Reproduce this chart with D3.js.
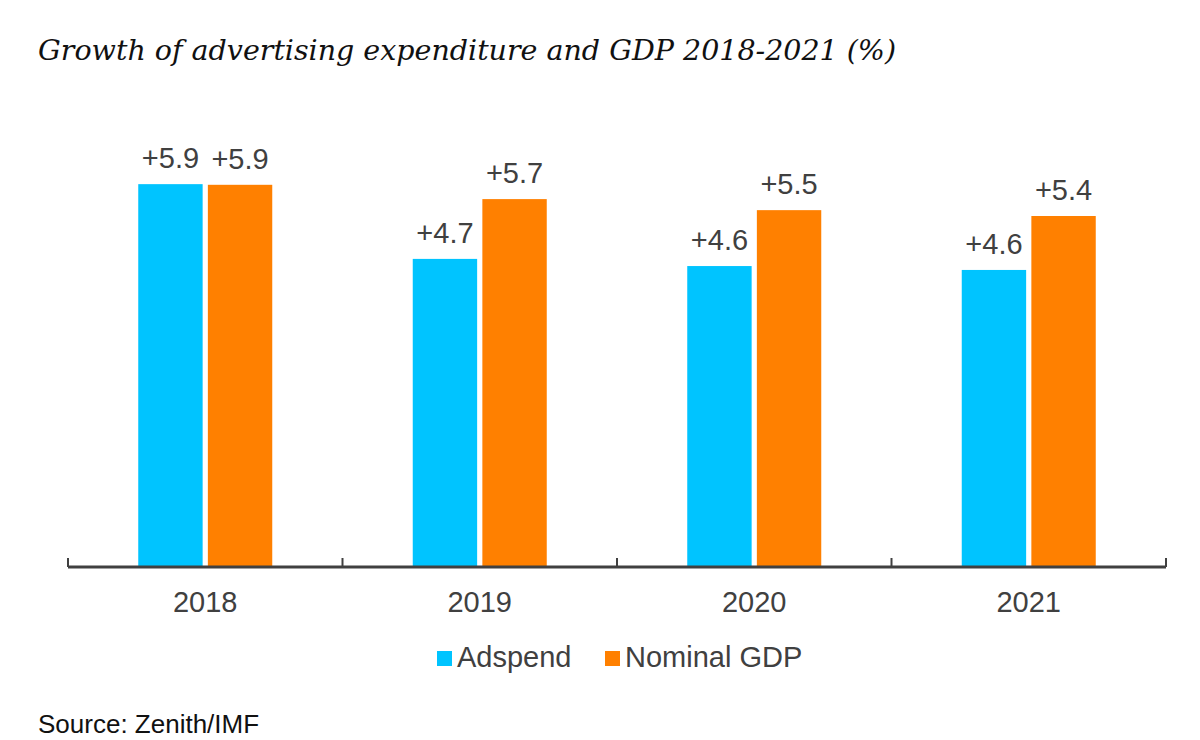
<!DOCTYPE html>
<html>
<head>
<meta charset="utf-8">
<script src="https://cdn.jsdelivr.net/npm/d3@7"></script>
<style>
  html, body { margin: 0; padding: 0; background: #fff; }
  svg { display: block; }
</style>
</head>
<body>
<svg id="chart" width="1200" height="740"></svg>
<script>
const years = ["2018", "2019", "2020", "2021"];
const seriesNames = ["Adspend", "Nominal GDP"];
const adspend = [5.89, 4.74, 4.63, 4.57];
const nominalGDP = [5.88, 5.66, 5.49, 5.40];
const seriesColors = ["#00C4FF", "#FF8000"];
const titleText = "Growth of advertising expenditure and GDP 2018-2021 (%)";
const sourceText = "Source: Zenith/IMF";

const svg = d3.select("#chart");
const W = 1200, H = 740;
const margin = { left: 68, right: 34, top: 177, bottom: 173 };
const x0 = d3.scaleBand().domain(years).range([margin.left, W - margin.right]).paddingInner(0).paddingOuter(0);
const x1 = d3.scaleBand().domain(seriesNames).range([0, 134]).paddingInner(0.075);
const y = d3.scaleLinear().domain([0, 6]).range([H - margin.bottom, margin.top]);
const baseY = y(0);

const data = years.map((yr, i) => ({ year: yr, values: [adspend[i], nominalGDP[i]] }));

// Title
svg.append("text")
  .attr("x", 38).attr("y", 60)
  .attr("font-family", "'DejaVu Serif', 'Liberation Serif', serif")
  .attr("font-style", "italic")
  .attr("font-size", 28.5)
  .attr("fill", "#111")
  .text(titleText);

const groups = svg.selectAll("g.year").data(data).enter().append("g")
  .attr("class", "year")
  .attr("transform", d => `translate(${x0(d.year) + x0.bandwidth() / 2 - 67},0)`);

groups.selectAll("rect").data(d => d.values.map((v, j) => ({ v, s: seriesNames[j], j })))
  .enter().append("rect")
  .attr("x", d => x1(d.s))
  .attr("y", d => y(d.v))
  .attr("width", x1.bandwidth())
  .attr("height", d => baseY - y(d.v))
  .attr("fill", d => seriesColors[d.j]);

const fmt = d3.format("+.1f");
groups.selectAll("text.val").data(d => d.values.map((v, j) => ({ v, s: seriesNames[j] })))
  .enter().append("text")
  .attr("class", "val")
  .attr("x", d => x1(d.s) + x1.bandwidth() / 2)
  .attr("y", d => y(d.v) - 16)
  .attr("text-anchor", "middle")
  .attr("font-family", "Arial, 'Liberation Sans', sans-serif")
  .attr("font-size", 29)
  .attr("fill", "#404040")
  .text(d => fmt(d.v));

// Axis
const axisG = svg.append("g").attr("transform", `translate(0,${baseY})`);
axisG.append("line")
  .attr("x1", margin.left).attr("x2", W - margin.right)
  .attr("y1", 0).attr("y2", 0)
  .attr("stroke", "#404040").attr("stroke-width", 3);
const tickXs = years.map(yr => x0(yr)).concat([x0(years[years.length - 1]) + x0.bandwidth()]);
axisG.selectAll("line.tick").data(tickXs).enter().append("line")
  .attr("class", "tick")
  .attr("x1", d => d).attr("x2", d => d)
  .attr("y1", -9).attr("y2", 0)
  .attr("stroke", "#404040").attr("stroke-width", 2);
axisG.selectAll("text.yr").data(years).enter().append("text")
  .attr("class", "yr")
  .attr("x", d => x0(d) + x0.bandwidth() / 2)
  .attr("y", 45)
  .attr("text-anchor", "middle")
  .attr("font-family", "Arial, 'Liberation Sans', sans-serif")
  .attr("font-size", 29)
  .attr("fill", "#404040")
  .text(d => d);

// Legend
const legendX = [437, 605];
const lg = svg.selectAll("g.legend").data(seriesNames).enter().append("g")
  .attr("class", "legend")
  .attr("transform", (d, i) => `translate(${legendX[i]},0)`);
lg.append("rect").attr("x", 0).attr("y", 651).attr("width", 15).attr("height", 15)
  .attr("fill", (d, i) => seriesColors[i]);
lg.append("text").attr("x", 20).attr("y", 667)
  .attr("font-family", "Arial, 'Liberation Sans', sans-serif")
  .attr("font-size", 29)
  .attr("fill", "#404040")
  .text(d => d);

// Source
svg.append("text")
  .attr("x", 38).attr("y", 733)
  .attr("font-family", "Arial, 'Liberation Sans', sans-serif")
  .attr("font-size", 26)
  .attr("fill", "#111")
  .text(sourceText);
</script>
</body>
</html>
